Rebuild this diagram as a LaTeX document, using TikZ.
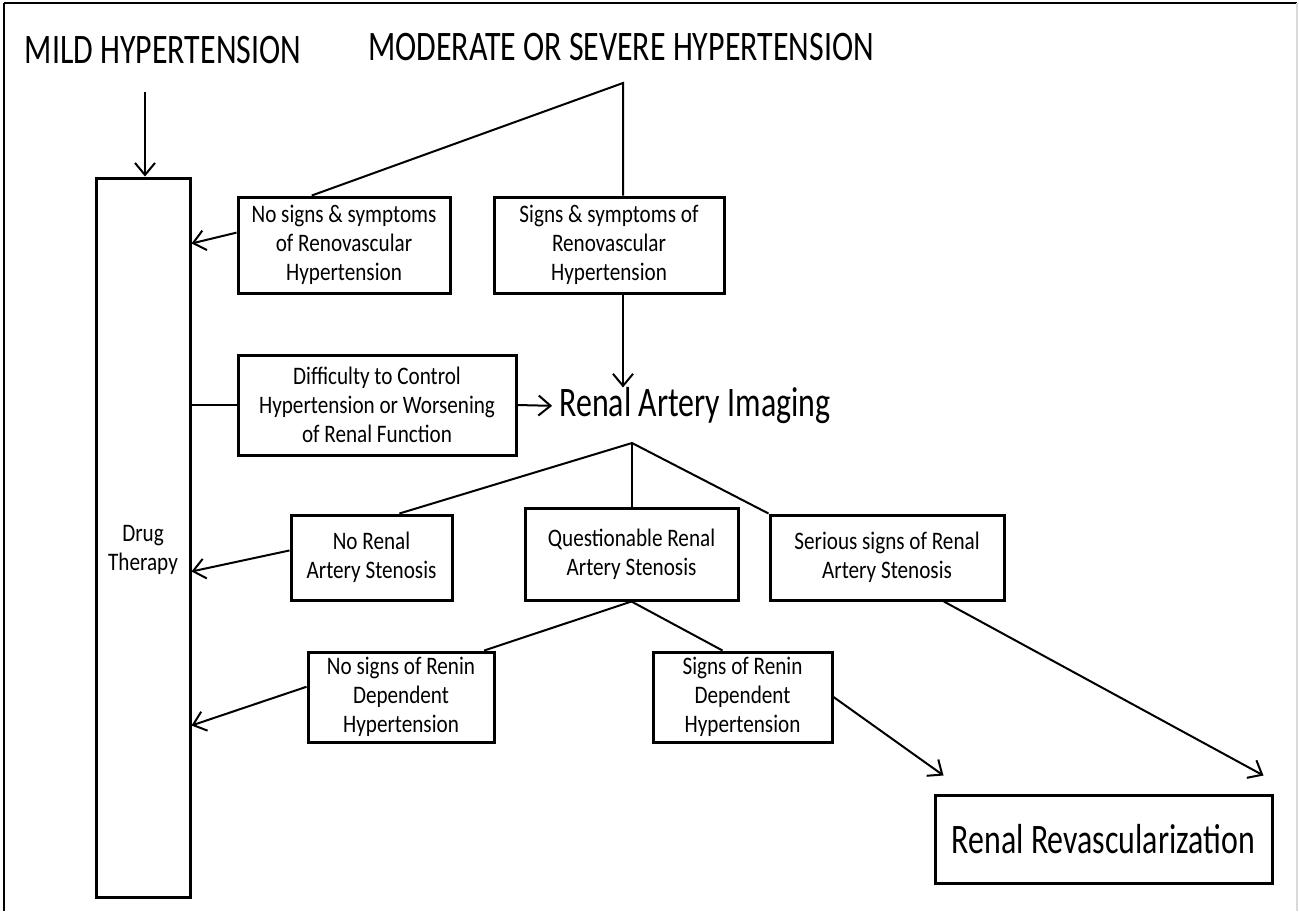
\documentclass[tikz,border=0pt]{standalone}
\usepackage{fontspec}
\usetikzlibrary{arrows.meta,calc}
\newfontfamily\boxfont{Carlito}[FakeStretch=0.84]
\newfontfamily\bigfont{Carlito}[FakeStretch=0.76]
\tikzset{
  boxtext/.style={align=center,inner sep=0pt,
    font=\boxfont\fontsize{12.6}{14.5}\selectfont},
  box/.style={boxtext,draw,line width=1.5pt},
  bigtext/.style={inner sep=0pt,font=\bigfont\fontsize{21}{24}\selectfont},
  link/.style={line width=1pt},
  flow/.style={line width=1pt,-{Straight Barb[length=6pt,width=10pt]}}
}

\begin{document}
\begin{tikzpicture}[x=0.5pt,y=-0.5pt]
\useasboundingbox (0,0) rectangle (1299,911);
% marco
\draw[line width=1pt] (4,3) -- (1297,3);
\draw[line width=0.6pt] (4,3) -- (4,911);
\draw[gray!30,line width=0.6pt] (1297,3) -- (1297,911);
% titulos
\node[bigtext] (mild) at (163,50) {MILD HYPERTENSION};
\node[bigtext] (moderate) at (621,47) {MODERATE OR SEVERE HYPERTENSION};
\coordinate (mildend) at (145,92);
\coordinate (top) at (623,83);
% cajas (medidas en pt = px/2)
\node[box,minimum width=47pt,minimum height=359.5pt] (drug) at (143,537.5) {};
\node[boxtext] (drugtxt) at (143,550) {Drug\\Therapy};
\node[box,minimum width=106pt,minimum height=48pt] (nosym) at (344,245)
  {No signs \& symptoms\\of Renovascular\\Hypertension};
\node[box,minimum width=115pt,minimum height=48pt] (sym) at (609,245)
  {Signs \& symptoms of\\Renovascular\\Hypertension};
\node[box,minimum width=139pt,minimum height=50pt] (diff) at (377,405)
  {Difficulty to Control\\Hypertension or Worsening\\of Renal Function};
\node[bigtext] (imaging) at (695,406) {Renal Artery Imaging};
\coordinate (apex) at (632,443);
\node[box,minimum width=80.5pt,minimum height=42.5pt] (norenal) at (371.5,557.5)
  {No Renal\\Artery Stenosis};
\node[box,minimum width=106.5pt,minimum height=46pt] (quest) at (631.5,554)
  {Questionable Renal\\Artery Stenosis};
\node[box,minimum width=117pt,minimum height=42.5pt] (serious) at (887,557.5)
  {Serious signs of Renal\\Artery Stenosis};
\node[box,minimum width=93pt,minimum height=45pt] (norenin) at (401,697)
  {No signs of Renin\\Dependent\\Hypertension};
\node[box,minimum width=89.5pt,minimum height=45pt] (renin) at (742.5,697)
  {Signs of Renin\\Dependent\\Hypertension};
\node[box,bigtext,draw,minimum width=168.5pt,minimum height=44pt] (reva) at (1103.5,839)
  {Renal Revascularization};
% puntos de llegada en la caja de farmacos
\coordinate (drugin1) at ($(drug.north east)+(0,67)$);
\coordinate (drugin2) at ($(drug.north east)+(0,395)$);
\coordinate (drugin3) at ($(drug.north east)+(0,549)$);
\coordinate (revaleft) at ($(reva.north west)+(10,-18)$);
\coordinate (revaright) at ($(reva.north east)+(-10,-18)$);
% conectores
\draw[flow] (mildend) -- (drug.north -| mildend);
\draw[link] ($(nosym.north west)!0.35!(nosym.north east)$) -- (top)
  -- (sym.north -| top);
\draw[flow] ($(nosym.north west)!0.375!(nosym.south west)$) -- (drugin1);
\draw[flow] (sym.south -| top) -- (imaging.north -| top);
\draw[link] (drug.east |- diff.west) -- (diff.west);
\draw[flow,shorten >=3.5pt] (diff.east) -- (imaging.west);
\draw[link] ($(norenal.north west)!0.67!(norenal.north east)$) -- (apex)
  -- (serious.north west);
\draw[link] (apex) -- (quest.north -| apex);
\draw[flow] ($(norenal.north west)!0.42!(norenal.south west)$) -- (drugin2);
\draw[link] ($(norenin.north west)!0.94!(norenin.north east)$) -- (quest.south)
  -- ($(renin.north west)!0.39!(renin.north east)$);
\draw[flow] ($(norenin.north west)!0.39!(norenin.south west)$) -- (drugin3);
\draw[flow] ($(renin.north east)!0.5!(renin.south east)$) -- (revaleft);
\draw[flow] ($(serious.south west)!0.74!(serious.south east)$) -- (revaright);
\end{tikzpicture}
\end{document}
